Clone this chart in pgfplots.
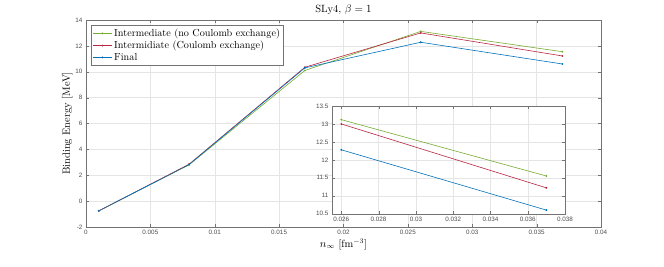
\documentclass[border=0pt]{standalone}
\usepackage{pgfplots}
\pgfplotsset{compat=1.18}
\usepackage{fontspec}
\setsansfont{Liberation Sans}
\definecolor{mgreen}{rgb}{0.466,0.674,0.188}
\definecolor{mred}{rgb}{0.72,0.15,0.26}
\definecolor{mblue}{rgb}{0,0.447,0.741}
\definecolor{axgray}{rgb}{0.45,0.45,0.45}
\pgfplotstableread{
x y
0.001 -0.75
0.008 2.80
0.017 10.10
0.026 13.12
0.037 11.55
}\green
\pgfplotstableread{
x y
0.001 -0.75
0.008 2.85
0.017 10.35
0.026 13.00
0.037 11.22
}\red
\pgfplotstableread{
x y
0.001 -0.75
0.008 2.82
0.017 10.30
0.026 12.28
0.037 10.60
}\blue
\pgfplotstableread{
x y
0.026 13.12
0.037 11.55
}\greenin
\pgfplotstableread{
x y
0.026 13.00
0.037 11.22
}\redin
\pgfplotstableread{
x y
0.026 12.28
0.037 10.60
}\bluein
\begin{document}
\begin{tikzpicture}
\useasboundingbox (-86pt,-39pt) rectangle (578pt,227pt);
\pgfplotsset{
  every axis/.append style={
    scale only axis,
    axis line style={axgray},
    tick style={axgray},
    tick align=inside,
    major tick length=3pt,
    ticklabel style={font=\sffamily\fontsize{6.3}{7}\selectfont, text=black!70},
    /pgf/number format/assume math mode=true,
    grid=major,
    grid style={gray!20, line width=0.4pt},
    scaled ticks=false,
    /pgf/number format/fixed,
    /pgf/number format/precision=3,
  }
}
\begin{axis}[
  at={(0,0)}, anchor=south west,
  width=515pt, height=207pt,
  xmin=0, xmax=0.04, ymin=-2, ymax=14,
  xtick={0,0.005,...,0.04},
  ytick={-2,0,...,14},
  title={SLy4, $\beta=1$},
  title style={font=\fontsize{10.5}{12}\selectfont, yshift=-4pt},
  xlabel={$n_\infty$ [fm$^{-3}$]},
  ylabel={Binding Energy [MeV]},
  label style={font=\fontsize{10.5}{12}\selectfont},
  xlabel style={yshift=3pt},
  ylabel style={yshift=-4pt},
  legend style={at={(0.01,0.975)}, anchor=north west, font=\fontsize{10.2}{11}\selectfont, draw=axgray, inner sep=1.5pt, row sep=-1pt, legend cell align=left},
  legend image code/.code={\draw[#1, line width=0.9pt] (0cm,0cm) -- (0.65cm,0cm); \draw[#1, fill] (0.325cm,0cm) circle (0.6pt);},
]
\addplot[mgreen, line width=0.6pt, mark=*, mark size=0.6pt] table {\green};
\addlegendentry{Intermediate (no Coulomb exchange)}
\addplot[mred, line width=0.6pt, mark=*, mark size=0.6pt] table {\red};
\addlegendentry{Intermidiate (Coulomb exchange)}
\addplot[mblue, line width=0.6pt, mark=*, mark size=0.6pt] table {\blue};
\addlegendentry{Final}
\end{axis}
\begin{axis}[
  at={(246pt,13.3pt)}, anchor=south west,
  width=233pt, height=107.7pt,
  axis background/.style={fill=white},
  xmin=0.0255, xmax=0.038, ymin=10.5, ymax=13.5,
  xtick={0.026,0.028,...,0.0381},
  ytick={10.5,11,...,13.5},
]
\addplot[mgreen, line width=0.6pt, mark=*, mark size=0.6pt] table {\greenin};
\addplot[mred, line width=0.6pt, mark=*, mark size=0.6pt] table {\redin};
\addplot[mblue, line width=0.6pt, mark=*, mark size=0.6pt] table {\bluein};
\end{axis}
\end{tikzpicture}
\end{document}
